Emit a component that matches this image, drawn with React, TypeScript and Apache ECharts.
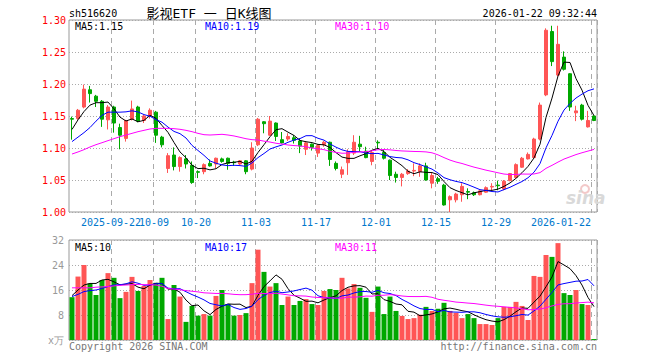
import React, { useEffect, useRef } from "react";
import * as echarts from "echarts";

const dates = [
  "2025-09-11","2025-09-12","2025-09-15","2025-09-16","2025-09-17","2025-09-18","2025-09-19",
  "2025-09-22","2025-09-23","2025-09-24","2025-09-25","2025-09-26","2025-09-29","2025-09-30",
  "2025-10-09","2025-10-10","2025-10-13","2025-10-14","2025-10-15","2025-10-16","2025-10-17",
  "2025-10-20","2025-10-21","2025-10-22","2025-10-23","2025-10-24","2025-10-27","2025-10-28","2025-10-29","2025-10-30","2025-10-31",
  "2025-11-03","2025-11-04","2025-11-05","2025-11-06","2025-11-07","2025-11-10","2025-11-11","2025-11-12","2025-11-13","2025-11-14",
  "2025-11-17","2025-11-18","2025-11-19","2025-11-20","2025-11-21","2025-11-24","2025-11-25","2025-11-26","2025-11-27","2025-11-28",
  "2025-12-01","2025-12-02","2025-12-03","2025-12-04","2025-12-05","2025-12-08","2025-12-09","2025-12-10","2025-12-11","2025-12-12",
  "2025-12-15","2025-12-16","2025-12-17","2025-12-18","2025-12-19","2025-12-22","2025-12-23","2025-12-24","2025-12-25","2025-12-26",
  "2025-12-29","2025-12-30","2025-12-31","2026-01-05","2026-01-06","2026-01-07","2026-01-08","2026-01-09",
  "2026-01-12","2026-01-13","2026-01-14","2026-01-15","2026-01-16","2026-01-19","2026-01-20","2026-01-21","2026-01-22"
];

const opens = [
  1.146,1.146,1.164,1.191,1.181,1.173,1.144,1.164,1.132,1.115,
  1.145,1.164,1.143,1.150,1.156,1.117,1.068,1.089,1.071,1.083,
  1.073,1.063,1.063,1.076,1.075,1.083,1.084,1.078,1.075,1.080,
  1.067,1.105,1.141,1.120,1.139,1.113,1.114,1.116,1.111,1.098,
  1.106,1.092,1.105,1.109,1.076,1.059,1.077,1.092,1.106,1.095,
  1.079,1.109,1.093,1.081,1.059,1.054,1.060,1.064,1.063,1.072,
  1.045,1.052,1.042,1.019,1.019,1.027,1.032,1.030,1.027,1.031,
  1.039,1.042,1.036,1.049,1.054,1.070,1.083,1.085,1.114,1.183,
  1.282,1.214,1.242,1.216,1.155,1.167,1.133,1.150
];
const closes = [
  1.145,1.159,1.192,1.185,1.173,1.145,1.164,1.139,1.120,1.143,
  1.161,1.142,1.150,1.159,1.120,1.105,1.088,1.071,1.085,1.075,
  1.046,1.062,1.074,1.072,1.084,1.079,1.076,1.077,1.080,1.063,
  1.100,1.145,1.138,1.142,1.118,1.108,1.118,1.112,1.103,1.108,
  1.101,1.104,1.109,1.082,1.068,1.066,1.094,1.109,1.102,1.085,
  1.093,1.108,1.084,1.057,1.054,1.059,1.064,1.065,1.072,1.050,
  1.057,1.048,1.011,1.024,1.028,1.040,1.031,1.027,1.033,1.038,
  1.040,1.041,1.048,1.060,1.074,1.084,1.090,1.114,1.167,1.284,
  1.235,1.262,1.223,1.164,1.158,1.145,1.143,1.143
];
const lows = [
  1.113,1.144,1.162,1.171,1.164,1.133,1.129,1.124,1.098,1.110,
  1.143,1.140,1.139,1.146,1.108,1.101,1.061,1.065,1.063,1.068,
  1.044,1.053,1.059,1.071,1.068,1.077,1.066,1.072,1.073,1.059,
  1.065,1.103,1.123,1.119,1.111,1.107,1.111,1.107,1.092,1.089,
  1.096,1.086,1.102,1.072,1.065,1.053,1.058,1.089,1.094,1.084,
  1.073,1.099,1.082,1.050,1.046,1.040,1.058,1.056,1.055,1.049,
  1.037,1.044,1.010,1.000,1.015,1.016,1.020,1.025,1.026,1.030,
  1.033,1.034,1.034,1.048,1.053,1.069,1.082,1.084,1.112,1.181,
  1.228,1.212,1.221,1.158,1.142,1.143,1.132,1.142
];
const highs = [
  1.149,1.161,1.199,1.197,1.183,1.175,1.167,1.166,1.138,1.144,
  1.174,1.166,1.152,1.162,1.158,1.119,1.092,1.101,1.087,1.089,
  1.079,1.065,1.076,1.082,1.085,1.085,1.085,1.080,1.081,1.081,
  1.109,1.147,1.142,1.150,1.140,1.125,1.123,1.120,1.115,1.110,
  1.107,1.106,1.111,1.110,1.079,1.071,1.098,1.120,1.119,1.102,
  1.096,1.112,1.097,1.082,1.063,1.061,1.067,1.076,1.076,1.077,
  1.061,1.055,1.044,1.026,1.030,1.045,1.037,1.032,1.034,1.040,
  1.045,1.049,1.050,1.061,1.076,1.086,1.093,1.116,1.171,1.287,
  1.291,1.291,1.251,1.217,1.166,1.169,1.158,1.151
];
const volumes = [
  13.7,20.3,24.0,18.1,14.4,19.2,21.4,19.9,13.4,15.4,
  20.2,15.7,17.3,19.2,18.3,19.9,6.7,17.6,13.9,5.8,
  10.9,7.8,8.3,7.8,14.1,16.0,11.5,7.8,8.0,8.6,
  18.2,28.9,21.8,17.1,18.2,11.2,13.9,11.2,12.5,13.1,
  11.5,11.2,15.7,16.3,16.0,19.9,16.5,17.9,16.7,13.5,
  9.0,17.1,8.3,13.9,9.3,7.7,6.7,7.0,8.1,10.6,
  9.3,10.0,11.9,9.3,8.7,7.0,8.3,7.0,5.1,5.1,
  4.8,7.0,10.6,10.6,12.2,10.9,6.4,20.5,20.2,27.2,
  26.6,31.0,15.0,14.4,16.0,11.5,11.2,0.3
];

// Moving-average values before the visible window
const ma5Head = [1.129, 1.144, 1.157, 1.167];
const ma10Head = [1.110, 1.117, 1.124, 1.132, 1.142, 1.151, 1.156, 1.156, 1.156];
const ma30Head = [
  1.0906,1.0938,1.0974,1.1016,1.1052,1.1083,1.1115,1.1146,1.1177,1.1203,
  1.1229,1.1255,1.1276,1.1297,1.1307,1.1307,1.1307,1.1302,1.1292,1.1276,
  1.1255,1.1229,1.1208,1.1203,1.1208,1.1214,1.1203,1.1188,1.1167
];
const vma5Head = [14.2, 16.0, 17.6, 18.1];
const vma10Head = [13.9, 14.6, 15.5, 15.8, 16.0, 16.5, 17.1, 17.6, 17.7];
const vma30Head = [
  16.7,16.7,16.7,16.7,16.9,17.0,17.1,17.3,17.5,17.6,
  17.7,17.8,17.7,17.7,17.6,17.2,16.5,16.3,16.1,15.8,
  15.6,15.4,15.1,15.0,14.9,14.9,14.8,14.6,14.5
];

const labelDates = ["2025-09-22","2025-10-09","2025-10-20","2025-11-03","2025-11-17","2025-12-01","2025-12-15","2025-12-29","2026-01-22"];
const tickLabels = ["2025-09-22","10-09","10-20","11-03","11-17","12-01","12-15","12-29","2026-01-22"];
const priceTicks = [1.0, 1.3, 0.05];
const volTicks = [0, 32, 8];
const priceLegend = ["MA5:1.15", "MA10:1.19", "MA30:1.10"];
const volLegend = ["MA5:10", "MA10:17", "MA30:11"];

const UP = "#ff5555";
const DOWN = "#00a800";
const LABEL_BLUE = "#0077cc";
const MONO = "'DejaVu Sans Mono', 'Liberation Mono', monospace";

function movingAverage(values: number[], n: number, head: number[]): number[] {
  return values.map((_, i) => {
    if (i < n - 1) return head[i];
    let s = 0;
    for (let j = i - n + 1; j <= i; j++) s += values[j];
    return +(s / n).toFixed(4);
  });
}

function buildOption() {
  const candle = dates.map((_, i) => [opens[i], closes[i], lows[i], highs[i]]);
  const vols = volumes.map((v, i) => ({
    value: v,
    itemStyle: { color: closes[i] >= opens[i] ? UP : DOWN },
  }));
  const isLabelDate = (v: string) => labelDates.indexOf(v) >= 0;
  const splitX = {
    show: true,
    interval: (_i: number, v: string) => isLabelDate(v),
    lineStyle: { color: "#aaaaaa", type: [5, 4], width: 1 },
  };
  const lineSeries = (name: string, data: number[], color: string, xi: number) => ({
    name,
    type: "line",
    data,
    xAxisIndex: xi,
    yAxisIndex: xi,
    showSymbol: false,
    symbol: "none",
    silent: true,
    lineStyle: { color, width: 1 },
    z: 5,
  });
  const legendText = (txt: string, x: number, y: number, color: string) => ({
    type: "text",
    x,
    y,
    silent: true,
    z: 100,
    style: {
      text: txt,
      fill: color,
      font: `10px ${MONO}`,
      align: "left",
      textAlign: "left",
      verticalAlign: "middle",
      textVerticalAlign: "middle",
    },
  });
  const legendColors = ["#000000", "#0000ff", "#ff00ff"];
  const legendX = [75, 205, 335];
  const richStyles = {
    s: { padding: [0, 6, 0, 0], color: LABEL_BLUE, fontSize: 10, fontFamily: MONO },
    n: { padding: [0, 4, 0, 0], color: LABEL_BLUE, fontSize: 10, fontFamily: MONO },
    e: { padding: [0, 66, 0, 0], color: LABEL_BLUE, fontSize: 10, fontFamily: MONO },
  };

  return {
    animation: false,
    backgroundColor: "#ffffff",
    grid: [
      { left: 69, top: 20, width: 528, height: 192, show: true, borderColor: "#999999", borderWidth: 1, backgroundColor: "transparent" },
      { left: 69, top: 240, width: 528, height: 100, show: true, borderColor: "#999999", borderWidth: 1, backgroundColor: "transparent" },
    ],
    xAxis: [
      {
        type: "category",
        gridIndex: 0,
        position: "bottom",
        data: dates,
        boundaryGap: true,
        axisLine: { show: false },
        axisTick: { show: false },
        splitLine: splitX,
        axisLabel: {
          show: true,
          hideOverlap: false,
          interval: (_i: number, v: string) => isLabelDate(v) && v !== labelDates[0],
          margin: 5,
          color: LABEL_BLUE,
          fontSize: 10,
          fontFamily: MONO,
          formatter: (v: string) => {
            const k = labelDates.indexOf(v);
            const t = k >= 0 ? tickLabels[k] : "";
            return k === labelDates.length - 1 ? `{e|${t}}` : `{n|${t}}`;
          },
          rich: richStyles,
        },
      },
      {
        type: "category",
        gridIndex: 1,
        position: "bottom",
        data: dates,
        boundaryGap: true,
        axisLine: { show: false },
        axisTick: { show: false },
        axisLabel: { show: false },
        splitLine: splitX,
      },
      {
        // carries only the first (full-year) date label of the price chart
        type: "category",
        gridIndex: 0,
        position: "bottom",
        offset: 0,
        data: dates,
        boundaryGap: true,
        axisLine: { show: false },
        axisTick: { show: false },
        splitLine: { show: false },
        axisLabel: {
          show: true,
          hideOverlap: false,
          interval: (_i: number, v: string) => v === labelDates[0],
          margin: 5,
          color: LABEL_BLUE,
          fontSize: 10,
          fontFamily: MONO,
          formatter: (v: string) => `{s|${tickLabels[labelDates.indexOf(v)] ?? ""}}`,
          rich: richStyles,
        },
      },
    ],
    yAxis: [
      {
        type: "value",
        gridIndex: 0,
        min: priceTicks[0],
        max: priceTicks[1],
        interval: priceTicks[2],
        axisLine: { show: false },
        axisTick: { show: false },
        axisLabel: {
          color: "#ff0000",
          fontSize: 10,
          fontFamily: MONO,
          margin: 3,
          padding: [3, 0, 0, 0],
          formatter: (v: number) => v.toFixed(2),
        },
        splitLine: { show: true, lineStyle: { color: "#aaaaaa", type: [1, 2], width: 1 } },
      },
      {
        type: "value",
        gridIndex: 1,
        min: volTicks[0],
        max: volTicks[1],
        interval: volTicks[2],
        axisLine: { show: false },
        axisTick: { show: false },
        axisLabel: {
          color: "#999999",
          fontSize: 10,
          fontFamily: MONO,
          margin: 5,
          formatter: (v: number) => (v === 0 ? "x万" : String(v)),
        },
        splitLine: { show: true, lineStyle: { color: "#aaaaaa", type: [1, 2], width: 1 } },
      },
    ],
    series: [
      {
        name: "K",
        type: "candlestick",
        data: candle,
        xAxisIndex: 0,
        yAxisIndex: 0,
        barWidth: 4,
        silent: true,
        itemStyle: {
          color: UP,
          color0: DOWN,
          borderColor: UP,
          borderColor0: DOWN,
          borderWidth: 1,
        },
        z: 3,
      },
      lineSeries("MA5", movingAverage(closes, 5, ma5Head), "#000000", 0),
      lineSeries("MA10", movingAverage(closes, 10, ma10Head), "#0000ff", 0),
      lineSeries("MA30", movingAverage(closes, 30, ma30Head), "#ff00ff", 0),
      {
        name: "VOL",
        type: "bar",
        data: vols,
        xAxisIndex: 1,
        yAxisIndex: 1,
        barWidth: 5,
        silent: true,
        z: 3,
      },
      lineSeries("VMA5", movingAverage(volumes, 5, vma5Head), "#000000", 1),
      lineSeries("VMA10", movingAverage(volumes, 10, vma10Head), "#0000ff", 1),
      lineSeries("VMA30", movingAverage(volumes, 30, vma30Head), "#ff00ff", 1),
    ],
    graphic: [
      {
        type: "text", x: 69, y: 13, silent: true,
        style: { text: "sh516620", fill: "#000", font: `10px ${MONO}`, align: "left", textAlign: "left", verticalAlign: "middle", textVerticalAlign: "middle" },
      },
      {
        type: "text", x: 209, y: 13, silent: true,
        style: { text: "影视ETF 一 日K线图", fill: "#000", font: `13px 'DejaVu Sans Mono', 'Noto Sans CJK SC', monospace`, align: "center", textAlign: "center", verticalAlign: "middle", textVerticalAlign: "middle" },
      },
      {
        type: "text", x: 597, y: 13, silent: true,
        style: { text: "2026-01-22 09:32:44", fill: "#000", font: `10px ${MONO}`, align: "right", textAlign: "right", verticalAlign: "middle", textVerticalAlign: "middle" },
      },
      ...priceLegend.map((t, i) => legendText(t, legendX[i], 26, legendColors[i])),
      ...volLegend.map((t, i) => legendText(t, legendX[i], 247, legendColors[i])),
      {
        type: "text", x: 69, y: 346, silent: true,
        style: { text: "Copyright 2026 SINA.COM", fill: "#777", font: `10px ${MONO}`, align: "left", textAlign: "left", verticalAlign: "middle", textVerticalAlign: "middle" },
      },
      {
        type: "text", x: 597, y: 346, silent: true,
        style: { text: "http://finance.sina.com.cn", fill: "#777", font: `10px ${MONO}`, align: "right", textAlign: "right", verticalAlign: "middle", textVerticalAlign: "middle" },
      },
      {
        type: "circle", x: 585, y: 189, silent: true, z: 1,
        shape: { r: 4 },
        style: { fill: "none", stroke: "#f3c9c9", lineWidth: 2 },
      },
      {
        type: "text", x: 566, y: 198, silent: true, z: 1,
        style: { text: "sina", fill: "#d9d9d9", font: `italic bold 17px 'DejaVu Sans', sans-serif`, align: "left", textAlign: "left", verticalAlign: "middle", textVerticalAlign: "middle" },
      },
    ],
  };
}

export default function App() {
  const ref = useRef<HTMLDivElement>(null);
  useEffect(() => {
    document.body.style.margin = "0";
    if (!ref.current) return;
    const chart = echarts.init(ref.current, undefined, { renderer: "svg" });
    chart.setOption(buildOption() as any);
    return () => {
      chart.dispose();
    };
  }, []);
  return <div ref={ref} style={{ width: 660, height: 360, background: "#fff" }} />;
}
